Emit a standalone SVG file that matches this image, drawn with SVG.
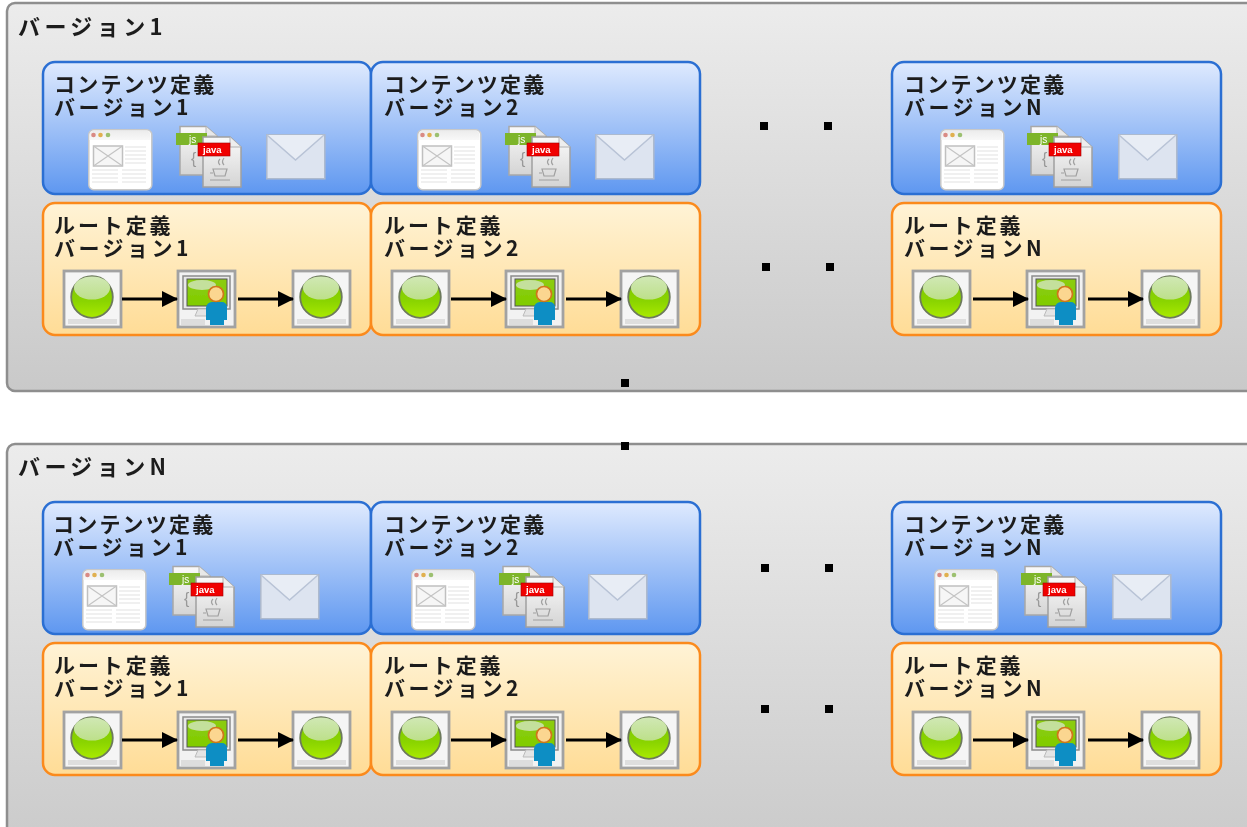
<svg xmlns="http://www.w3.org/2000/svg" width="1247" height="827" viewBox="0 0 1247 827">
<style>
text{font-family:"Noto Sans CJK JP","Liberation Sans",sans-serif;font-size:21px;font-weight:700;fill:#1c1c1c;filter:url(#soft)}
.k{letter-spacing:2.2px}
.b{letter-spacing:3.5px}
.l{letter-spacing:2.9px}
.t{font-size:22px;letter-spacing:4.4px}
use{filter:url(#soft)}
.ver{fill:url(#gGray);stroke:#8e8e8e;stroke-width:2.5}
.c{fill:url(#gBlue);stroke:#2b6fd3;stroke-width:2.5}
.r{fill:url(#gOrange);stroke:#fb8a1c;stroke-width:2.5}
.arrow{stroke:#000;stroke-width:3.2;fill:none;marker-end:url(#arr)}
.dot{fill:#000}
.ico{font-family:"Liberation Sans",sans-serif;letter-spacing:0;filter:none;font-weight:400}
</style>
<defs>
<filter id="soft" x="-5%" y="-5%" width="110%" height="110%"><feGaussianBlur stdDeviation="0.45"/></filter>
<linearGradient id="gGray" x1="0" y1="0" x2="0" y2="1"><stop offset="0" stop-color="#ececec"/><stop offset="1" stop-color="#c9c9c9"/></linearGradient>
<linearGradient id="gBlue" x1="0" y1="0" x2="0" y2="1"><stop offset="0" stop-color="#dfeafe"/><stop offset="1" stop-color="#5e97f0"/></linearGradient>
<linearGradient id="gOrange" x1="0" y1="0" x2="0" y2="1"><stop offset="0" stop-color="#fff3d6"/><stop offset="1" stop-color="#ffdc96"/></linearGradient>
<linearGradient id="gBall" x1="0" y1="0" x2="0" y2="1"><stop offset="0" stop-color="#7cc400"/><stop offset="0.6" stop-color="#8ad400"/><stop offset="1" stop-color="#aaea00"/></linearGradient>
<linearGradient id="gGloss" x1="0" y1="0" x2="0" y2="1"><stop offset="0" stop-color="#d0e8b4"/><stop offset="1" stop-color="#bde08a"/></linearGradient>
<linearGradient id="gFile" x1="0" y1="0" x2="0" y2="1"><stop offset="0" stop-color="#fafafa"/><stop offset="1" stop-color="#d4d4d4"/></linearGradient>
<linearGradient id="gScreen" x1="0" y1="0" x2="0" y2="1"><stop offset="0" stop-color="#8ccc10"/><stop offset="1" stop-color="#80cc00"/></linearGradient>
<linearGradient id="gBar" x1="0" y1="0" x2="0" y2="1"><stop offset="0" stop-color="#ececec"/><stop offset="1" stop-color="#f8f8f8"/></linearGradient>
<marker id="arr" viewBox="0 0 16 16" refX="15" refY="8" markerWidth="16" markerHeight="16" markerUnits="userSpaceOnUse" orient="auto"><path d="M0 0L16 8L0 16z" fill="#000"/></marker>
<g id="page">
<rect x="0.8" y="0.8" width="63" height="60" rx="5" fill="#fff" stroke="#c8c8c8" stroke-width="1.5"/>
<path d="M1.500 11V6a4.500 4.500 0 0 1 4.500-4.500h52a4.500 4.500 0 0 1 4.500 4.500v5z" fill="url(#gBar)"/>
<circle cx="5.500" cy="6" r="2.300" fill="#d98a84"/><circle cx="12.500" cy="6" r="2.300" fill="#e0b050"/><circle cx="20" cy="6" r="2.300" fill="#9cc070"/>
<rect x="5.500" y="17" width="29" height="20" fill="#f6f6f6" stroke="#c0c0c0" stroke-width="1.5"/>
<path d="M5.500 17L34.500 37M34.500 17L5.500 37" stroke="#c4c4c4" stroke-width="1.2"/>
<path d="M37 18h21M37 22h21M37 26h21M37 30h21M37 34h21M4 41h26M4 45h26M4 49h26M4 53h26M34 41h24M34 45h24M34 49h24M34 53h24" stroke="#e2e2e2" stroke-width="1.2"/>
</g>
<g id="files">
<path d="M0 0.500H26L37 10V49H0z" fill="url(#gFile)" stroke="#a8a8a8" stroke-width="1.500"/>
<path d="M26 0.500V10H37" fill="#e8e8e8" stroke="#b4b4b4"/>
<rect x="-4" y="7" width="31" height="12" fill="#7db52a"/>
<text class="ico" x="9" y="16.500" style="font-size:10px;fill:#fff">js</text>
<text class="ico" x="11" y="38" style="font-size:16px;fill:#999">{</text>
<path d="M23 11H50L61 21V61H23z" fill="url(#gFile)" stroke="#a0a0a0" stroke-width="1.500"/>
<path d="M50 11V21H61" fill="#eee" stroke="#b0b0b0"/>
<rect x="18" y="17" width="32" height="13" fill="#f00000" stroke="#a00000" stroke-width="0.600"/>
<text class="ico" x="23" y="27" style="font-size:9.500px;font-weight:700;fill:#fff">java</text>
<path d="M40 33q-3 3 0 6M44 32q-3 4 0 7M33 43h14l-2 7H35zM30 54h20M33 47h-3" fill="none" stroke="#a0a0a0" stroke-width="1.200"/>
</g>
<g id="mail">
<rect x="0.800" y="0.800" width="58" height="44" fill="#dde4f0" stroke="#adb9cd" stroke-width="1.500"/>
<path d="M1 1L29.500 26L58 1" fill="#e8edf5" stroke="#b8c3d6" stroke-width="1.500"/>
</g>
<g id="ev">
<rect x="0" y="1" width="57" height="56" fill="#f5f5f5" stroke="#a2a2a2" stroke-width="2.800"/>
<path d="M4 49h49v5H4z" fill="#dedede"/>
<circle cx="28" cy="27" r="20.800" fill="url(#gBall)" stroke="#6d7a5c" stroke-width="1.800"/>
<ellipse cx="28" cy="18" rx="18" ry="11.500" fill="url(#gGloss)"/>
</g>
<g id="task">
<rect x="0" y="1" width="57" height="56" fill="#f2f2f2" stroke="#a2a2a2" stroke-width="2.800"/>
<rect x="5" y="6" width="47" height="33" fill="#e8e8e8" stroke="#8c8c8c" stroke-width="1.500"/>
<rect x="9" y="9" width="40" height="27" fill="url(#gScreen)" stroke="#555"/>
<ellipse cx="24" cy="15" rx="14" ry="5" fill="#c4e09c"/>
<path d="M20 39h10l2 7H17z" fill="#e4e4e4" stroke="#bbb"/>
<path d="M3 49h24v6H3z" fill="#ddd"/>
<path d="M28 50V38a6 6 0 0 1 6-6h10a5 5 0 0 1 5 5v13h-3v5H32v-5z" fill="#0d8ec4"/>
<circle cx="38" cy="24" r="7.500" fill="#fbd690" stroke="#d0761c" stroke-width="1.700"/>
</g>
</defs>

<g id="version1">
<rect class="ver" x="7" y="3" width="1260" height="388" rx="8"/>
<text class="t" x="18" y="35">バージョン1</text>
</g>
<g id="versionN">
<rect class="ver" x="7" y="444" width="1260" height="420" rx="8"/>
<text class="t" x="18" y="475">バージョンN</text>
</g>

<g id="v1-content-1"><rect class="c" x="43" y="62" width="328" height="132" rx="12"/><text><tspan class="k" x="54" y="92">コンテンツ定義</tspan><tspan class="b" x="54" y="115">バージョン1</tspan></text>
<use href="#page" x="88" y="129"/><use href="#files" x="180" y="126"/><use href="#mail" x="266" y="134"/></g>
<g id="v1-content-2"><rect class="c" x="371" y="62" width="329" height="132" rx="12"/><text><tspan class="k" x="384" y="92">コンテンツ定義</tspan><tspan class="b" x="384" y="115">バージョン2</tspan></text>
<use href="#page" x="417" y="129"/><use href="#files" x="509" y="126"/><use href="#mail" x="595" y="134"/></g>
<g id="v1-content-n"><rect class="c" x="892" y="62" width="329" height="132" rx="12"/><text><tspan class="k" x="904" y="92">コンテンツ定義</tspan><tspan class="b" x="904" y="115">バージョンN</tspan></text>
<use href="#page" x="940" y="129"/><use href="#files" x="1031" y="126"/><use href="#mail" x="1118" y="134"/></g>

<g id="v1-route-1"><rect class="r" x="43" y="203" width="328" height="132" rx="12"/><text><tspan class="l" x="54" y="233">ルート定義</tspan><tspan class="b" x="54" y="256">バージョン1</tspan></text>
<use href="#ev" x="64" y="270"/><use href="#task" x="178" y="270"/><use href="#ev" x="293" y="270"/></g>
<g id="v1-route-2"><rect class="r" x="371" y="203" width="329" height="132" rx="12"/><text><tspan class="l" x="384" y="233">ルート定義</tspan><tspan class="b" x="384" y="256">バージョン2</tspan></text>
<use href="#ev" x="392" y="270"/><use href="#task" x="506" y="270"/><use href="#ev" x="621" y="270"/></g>
<g id="v1-route-n"><rect class="r" x="892" y="203" width="329" height="132" rx="12"/><text><tspan class="l" x="904" y="233">ルート定義</tspan><tspan class="b" x="904" y="256">バージョンN</tspan></text>
<use href="#ev" x="913" y="270"/><use href="#task" x="1027" y="270"/><use href="#ev" x="1142" y="270"/></g>

<g id="vn-content-1"><rect class="c" x="43" y="502" width="328" height="132" rx="12"/><text><tspan class="k" x="53" y="532">コンテンツ定義</tspan><tspan class="b" x="53" y="555">バージョン1</tspan></text>
<use href="#page" x="82" y="569"/><use href="#files" x="173" y="566"/><use href="#mail" x="260" y="574"/></g>
<g id="vn-content-2"><rect class="c" x="371" y="502" width="329" height="132" rx="12"/><text><tspan class="k" x="384" y="532">コンテンツ定義</tspan><tspan class="b" x="384" y="555">バージョン2</tspan></text>
<use href="#page" x="411" y="569"/><use href="#files" x="503" y="566"/><use href="#mail" x="588" y="574"/></g>
<g id="vn-content-n"><rect class="c" x="892" y="502" width="329" height="132" rx="12"/><text><tspan class="k" x="904" y="532">コンテンツ定義</tspan><tspan class="b" x="904" y="555">バージョンN</tspan></text>
<use href="#page" x="934" y="569"/><use href="#files" x="1025" y="566"/><use href="#mail" x="1112" y="574"/></g>

<g id="vn-route-1"><rect class="r" x="43" y="643" width="328" height="132" rx="12"/><text><tspan class="l" x="54" y="673">ルート定義</tspan><tspan class="b" x="54" y="696">バージョン1</tspan></text>
<use href="#ev" x="64" y="711"/><use href="#task" x="178" y="711"/><use href="#ev" x="293" y="711"/></g>
<g id="vn-route-2"><rect class="r" x="371" y="643" width="329" height="132" rx="12"/><text><tspan class="l" x="384" y="673">ルート定義</tspan><tspan class="b" x="384" y="696">バージョン2</tspan></text>
<use href="#ev" x="392" y="711"/><use href="#task" x="506" y="711"/><use href="#ev" x="621" y="711"/></g>
<g id="vn-route-n"><rect class="r" x="892" y="643" width="329" height="132" rx="12"/><text><tspan class="l" x="904" y="673">ルート定義</tspan><tspan class="b" x="904" y="696">バージョンN</tspan></text>
<use href="#ev" x="913" y="711"/><use href="#task" x="1027" y="711"/><use href="#ev" x="1142" y="711"/></g>

<g id="connectors">
<path class="arrow" d="M122 299H177"/><path class="arrow" d="M238 299H293"/>
<path class="arrow" d="M451 299H506"/><path class="arrow" d="M566 299H621"/>
<path class="arrow" d="M973 299H1028"/><path class="arrow" d="M1088 299H1143"/>
<path class="arrow" d="M122 740H177"/><path class="arrow" d="M238 740H293"/>
<path class="arrow" d="M451 740H506"/><path class="arrow" d="M566 740H621"/>
<path class="arrow" d="M973 740H1028"/><path class="arrow" d="M1088 740H1143"/>
</g>
<g id="ellipsis-dots">
<rect class="dot" x="760" y="122" width="8" height="8"/><rect class="dot" x="824" y="122" width="8" height="8"/>
<rect class="dot" x="762" y="263" width="8" height="8"/><rect class="dot" x="826" y="263" width="8" height="8"/>
<rect class="dot" x="621" y="379" width="8" height="8"/><rect class="dot" x="621" y="442" width="8" height="8"/>
<rect class="dot" x="761" y="564" width="8" height="8"/><rect class="dot" x="825" y="564" width="8" height="8"/>
<rect class="dot" x="761" y="705" width="8" height="8"/><rect class="dot" x="825" y="705" width="8" height="8"/>
</g>
</svg>
